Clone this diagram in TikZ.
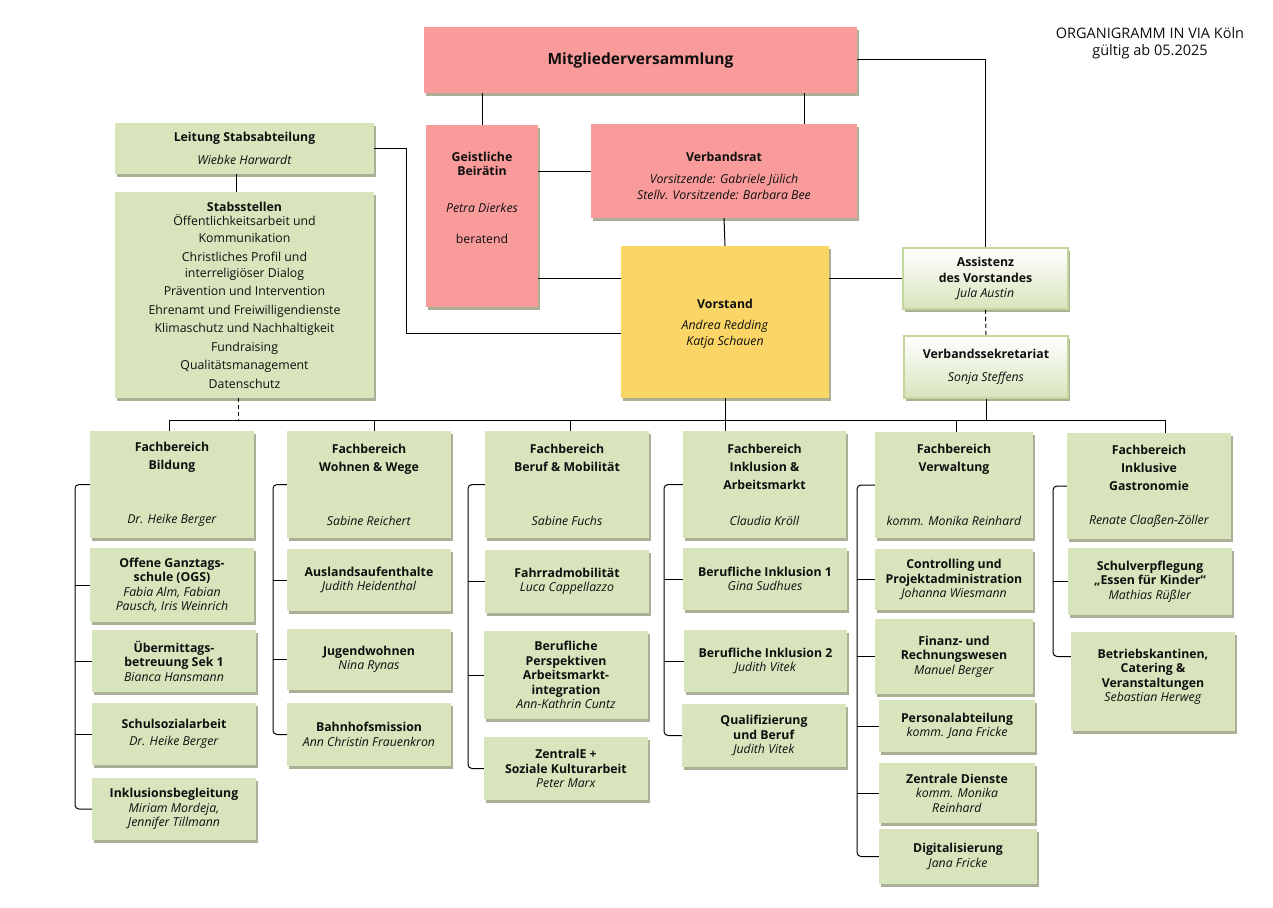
\documentclass[tikz,border=0pt]{standalone}
\usepackage{fontspec}
\setmainfont{Open Sans}
\usetikzlibrary{shadows}
\definecolor{grn}{RGB}{216,228,188}
\definecolor{pnk}{RGB}{250,155,155}
\definecolor{ylw}{RGB}{251,214,102}
\definecolor{shd}{RGB}{170,175,150}
\definecolor{gbrd}{RGB}{195,214,155}
\definecolor{txt}{RGB}{15,15,15}
\tikzset{
 box/.style={inner sep=0pt, align=center, text=txt, font=\fontsize{12.3}{14.5}\selectfont,
   general shadow={fill=shd, shadow xshift=2pt, shadow yshift=-3pt}},
 gbox/.style={box, fill=grn},
 pbox/.style={box, fill=pnk},
 ybox/.style={box, fill=ylw},
 wbox/.style={box, top color=white, bottom color=grn, draw=gbrd, line width=1.5pt},
 hbox/.style={gbox, font=\fontsize{12.3}{18}\selectfont},
 con/.style={draw=black, line width=1pt},
 dcon/.style={con, dash pattern=on 4pt off 3pt},
}
\newcommand\mkbox[7]{\node[#6, minimum width={(#4)-(#2)}, minimum height={(#5)-(#3)}] (#1) at ({((#2)+(#4))/2},{((#3)+(#5))/2}) {#7};}
\begin{document}
\begin{tikzpicture}[x=1pt,y=-1pt]
\useasboundingbox (0,0) rectangle (1273,907);
\fill[white] (0,0) rectangle (1273,907);

% title
\node[align=center, text=txt, font=\fontsize{14.5}{17}\selectfont] (title) at (1150,43) {ORGANIGRAMM IN VIA Köln\\gültig ab 05.2025};

% top level
\mkbox{mv}{424}{27}{857}{93}{pbox, font=\fontsize{15.5}{18}\selectfont\bfseries}{Mitgliederversammlung}
\mkbox{gb}{426}{125}{538}{307}{pbox}{\textbf{Geistliche}\\\textbf{Beirätin}\\[22pt]\textit{Petra Dierkes}\\[17pt]beratend\\[22pt]~}
\mkbox{vr}{591}{124}{857}{218}{pbox}{\rule{0pt}{19pt}\textbf{Verbandsrat}\\[7pt]\textit{Vorsitzende: Gabriele Jülich}\\[1.5pt]\textit{Stellv. Vorsitzende: Barbara Bee}}
\mkbox{vs}{621}{246}{829}{398}{ybox}{\rule{0pt}{13pt}\textbf{Vorstand}\\[7pt]\textit{Andrea Redding}\\[1.5pt]\textit{Katja Schauen}}
\mkbox{as}{903}{248}{1068}{309}{wbox}{\textbf{Assistenz}\\[1.5pt]\textbf{des Vorstandes}\\\textit{Jula Austin}}
\mkbox{vsek}{904}{336}{1068}{398}{wbox}{\textbf{Verbandssekretariat}\\[8.5pt]\textit{Sonja Steffens}}
\mkbox{ls}{115}{123}{374}{174}{gbox}{\textbf{Leitung Stabsabteilung}\\[8.5pt]\textit{Wiebke Harwardt}}
\mkbox{st}{115}{192}{374}{398}{gbox, font=\fontsize{12.3}{18.5}\selectfont}{\textbf{Stabsstellen}\\[-4pt]Öffentlichkeitsarbeit und\\[-1.5pt]Kommunikation\\Christliches Profil und\\[-2.5pt]interreligiöser Dialog\\Prävention und Intervention\\Ehrenamt und Freiwilligendienste\\Klimaschutz und Nachhaltigkeit\\Fundraising\\Qualitätsmanagement\\Datenschutz}

% column 1
\mkbox{h1}{90}{431}{254}{538}{hbox}{\textbf{Fachbereich}\\\textbf{Bildung}\\[36pt]\textit{Dr. Heike Berger}}
\mkbox{c1a}{90}{548}{254}{622}{gbox}{\textbf{Offene Ganztags-}\\\textbf{schule (OGS)}\\\textit{Fabia Alm, Fabian}\\\textit{Pausch, Iris Weinrich}}
\mkbox{c1b}{92}{630}{256}{692}{gbox}{\textbf{Übermittags-}\\\textbf{betreuung Sek 1}\\\textit{Bianca Hansmann}}
\mkbox{c1c}{92}{703}{256}{765}{gbox}{\textbf{Schulsozialarbeit}\\[2.5pt]\textit{Dr. Heike Berger}}
\mkbox{c1d}{92}{778}{256}{840}{gbox}{\textbf{Inklusionsbegleitung}\\\textit{Miriam Mordeja,}\\\textit{Jennifer Tillmann}}
% column 2
\mkbox{h2}{287}{431}{451}{538}{hbox}{\textbf{Fachbereich}\\\textbf{Wohnen \& Wege}\\[36pt]\textit{Sabine Reichert}}
\mkbox{c2a}{287}{549}{451}{611}{gbox}{\textbf{Auslandsaufenthalte}\\\textit{Judith Heidenthal}}
\mkbox{c2b}{287}{629}{451}{690}{gbox}{\textbf{Jugendwohnen}\\\textit{Nina Rynas}}
\mkbox{c2c}{287}{703}{451}{766}{gbox}{\textbf{Bahnhofsmission}\\\textit{Ann Christin Frauenkron}}
% column 3
\mkbox{h3}{485}{431}{649}{538}{hbox}{\textbf{Fachbereich}\\\textbf{Beruf \& Mobilität}\\[36pt]\textit{Sabine Fuchs}}
\mkbox{c3a}{485}{550}{649}{613}{gbox}{\textbf{Fahrradmobilität}\\\textit{Luca Cappellazzo}}
\mkbox{c3b}{484}{631}{648}{719}{gbox}{\textbf{Berufliche}\\\textbf{Perspektiven}\\\textbf{Arbeitsmarkt-}\\\textbf{integration}\\\textit{Ann-Kathrin Cuntz}}
\mkbox{c3c}{484}{737}{648}{800}{gbox}{\textbf{ZentralE +}\\\textbf{Soziale Kulturarbeit}\\\textit{Peter Marx}}
% column 4
\mkbox{h4}{683}{431}{846}{538}{hbox}{\textbf{Fachbereich}\\\textbf{Inklusion \&}\\\textbf{Arbeitsmarkt}\\[18pt]\textit{Claudia Kröll}}
\mkbox{c4a}{683}{548}{847}{610}{gbox}{\textbf{Berufliche Inklusion 1}\\\textit{Gina Sudhues}}
\mkbox{c4b}{684}{630}{847}{692}{gbox}{\textbf{Berufliche Inklusion 2}\\\textit{Judith Vitek}}
\mkbox{c4c}{682}{704}{846}{767}{gbox}{\textbf{Qualifizierung}\\\textbf{und Beruf}\\\textit{Judith Vitek}}
% column 5
\mkbox{h5}{875}{432}{1033}{538}{hbox}{\textbf{Fachbereich}\\\textbf{Verwaltung}\\[36pt]\textit{komm. Monika Reinhard}}
\mkbox{c5a}{875}{549}{1033}{610}{gbox}{\textbf{Controlling und}\\\textbf{Projektadministration}\\\textit{Johanna Wiesmann}}
\mkbox{c5b}{875}{619}{1033}{694}{gbox}{\textbf{Finanz- und}\\\textbf{Rechnungswesen}\\\textit{Manuel Berger}}
\mkbox{c5c}{879}{700}{1035}{752}{gbox}{\textbf{Personalabteilung}\\\textit{komm. Jana Fricke}}
\mkbox{c5d}{879}{763}{1035}{823}{gbox}{\textbf{Zentrale Dienste}\\\textit{komm. Monika}\\\textit{Reinhard}}
\mkbox{c5e}{879}{829}{1037}{884}{gbox}{\textbf{Digitalisierung}\\\textit{Jana Fricke}}
% column 6
\mkbox{h6}{1067}{433}{1231}{539}{hbox}{\textbf{Fachbereich}\\\textbf{Inklusive}\\\textbf{Gastronomie}\\[16pt]\textit{Renate Claaßen-Zöller}}
\mkbox{c6a}{1068}{548}{1232}{615}{gbox}{\textbf{Schulverpflegung}\\\textbf{„Essen für Kinder“}\\\textit{Mathias Rüßler}}
\mkbox{c6b}{1071}{632}{1235}{731}{gbox}{\textbf{Betriebskantinen,}\\\textbf{Catering \&}\\\textbf{Veranstaltungen}\\\textit{Sebastian Herweg}\\[-2pt]~}

% top connectors
\draw[con] (gb.north) -- (gb.north |- mv.south);
\draw[con] ([xshift=80pt]vr.north) -- ([xshift=80pt]vr.north |- mv.south);
\draw[con] (mv.east) -| (as.north);
\draw[con] (vr.west) -- (vr.west -| gb.east);
\draw[con] (vr.south) -- (vs.north);
\draw[con] ([yshift=44pt]vs.west) -- ([yshift=44pt]vs.west -| gb.east);
\draw[con] ([yshift=-11pt]vs.west) -- ++(-214,0) |- (ls.east);
\draw[con] (as.west) -- (as.west -| vs.east);
\draw[dcon] (as.south) -- (vsek.north);
\draw[con] ([xshift=-8pt]ls.south) -- ([xshift=-8pt]st.north);

% bus
\coordinate (bus) at (0,420);
\draw[con] ([xshift=-3pt]h1.north) -- ([xshift=-3pt]h1.north |- bus) -- ([xshift=16pt]h6.north |- bus) -- ([xshift=16pt]h6.north);
\draw[con] ([xshift=5pt]h2.north) -- ([xshift=5pt]h2.north |- bus);
\draw[con] ([xshift=3pt]h3.north) -- ([xshift=3pt]h3.north |- bus);
\draw[con] ([xshift=2pt]h5.north) -- ([xshift=2pt]h5.north |- bus);
\draw[con] (vs.south) -- (vs.south |- h4.north);
\draw[con] (vsek.south) -- (vsek.south |- bus);
\draw[dcon] ([xshift=-6pt]st.south) -- ([xshift=-6pt]st.south |- bus);

% brackets
\coordinate (b1) at (75,0);
\coordinate (b2) at (273,0);
\coordinate (b3) at (468,0);
\coordinate (b4) at (664,0);
\coordinate (b5) at (857,0);
\coordinate (b6) at (1053,0);
\draw[con, rounded corners=4pt] (h1.west) -- (h1.west -| b1) -- (c1d.west -| b1) -- (c1d.west);
\foreach \n in {c1a,c1b,c1c} \draw[con] (\n.west) -- (\n.west -| b1);
\draw[con, rounded corners=4pt] (h2.west) -- (h2.west -| b2) -- (c2c.west -| b2) -- (c2c.west);
\foreach \n in {c2a,c2b} \draw[con] (\n.west) -- (\n.west -| b2);
\draw[con, rounded corners=4pt] (h3.west) -- (h3.west -| b3) -- (c3c.west -| b3) -- (c3c.west);
\foreach \n in {c3a,c3b} \draw[con] (\n.west) -- (\n.west -| b3);
\draw[con, rounded corners=4pt] (h4.west) -- (h4.west -| b4) -- (c4c.west -| b4) -- (c4c.west);
\foreach \n in {c4a,c4b} \draw[con] (\n.west) -- (\n.west -| b4);
\draw[con, rounded corners=4pt] (h5.west) -- (h5.west -| b5) -- (c5e.west -| b5) -- (c5e.west);
\foreach \n in {c5a,c5b,c5c,c5d} \draw[con] (\n.west) -- (\n.west -| b5);
\draw[con, rounded corners=4pt] (h6.west) -- (h6.west -| b6) -- ([yshift=25pt]c6b.west -| b6) -- ([yshift=25pt]c6b.west);
\draw[con] (c6a.west) -- (c6a.west -| b6);
\end{tikzpicture}
\end{document}
